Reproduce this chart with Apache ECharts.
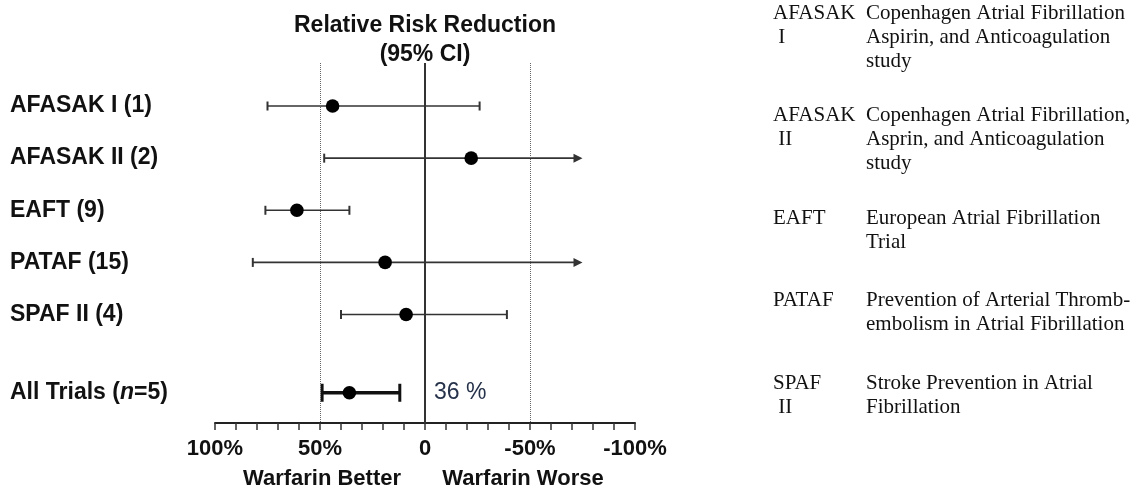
<!DOCTYPE html>
<html>
<head>
<meta charset="utf-8">
<title>Relative Risk Reduction</title>
<script src="https://cdn.jsdelivr.net/npm/echarts@6/dist/echarts.min.js"></script>
<style>
  html, body { margin: 0; padding: 0; background: #fff; }
  #chart { width: 1145px; height: 491px; }
</style>
</head>
<body>
<div id="chart"></div>
<script>
// Trials and their relative risk reduction (%), with 95% confidence limits
const trials = ['AFASAK I (1)', 'AFASAK II (2)', 'EAFT (9)', 'PATAF (15)', 'SPAF II (4)', 'All Trials (n=5)'];
const rrr = [44, -22, 61, 19, 9, 36];
const ciUpper = [75, 48, 76, 82, 40, 49];      // bound on the "warfarin better" side
const ciLower = [-26, -75, 36, -75, -39, 12];  // bound on the "warfarin worse" side
const truncated = [false, true, false, true, false, false]; // interval continues past the drawn end

// Axis labels
const tickValues = [100, 50, 0, -50, -100];
const tickLabels = ['100%', '50%', '0', '-50%', '-100%'];
const sideLabels = ['Warfarin Better', 'Warfarin Worse'];
const titleLines = ['Relative Risk Reduction', '(95% CI)'];

// Abbreviation key
const keyAbbrev = [['AFASAK', ' I'], ['AFASAK', ' II'], ['EAFT'], ['PATAF'], ['SPAF', ' II']];
const keyText = [
  ['Copenhagen Atrial Fibrillation', 'Aspirin, and Anticoagulation', 'study'],
  ['Copenhagen Atrial Fibrillation,', 'Asprin, and Anticoagulation', 'study'],
  ['European Atrial Fibrillation', 'Trial'],
  ['Prevention of Arterial Thromb-', 'embolism in Atrial Fibrillation'],
  ['Stroke Prevention in Atrial', 'Fibrillation']
];

const SANS = '"Liberation Sans", Arial, Helvetica, sans-serif';
const SERIF = '"Liberation Serif", "Times New Roman", Times, serif';

// pooled row sits half a row lower than the individual trials
const rowPos = trials.map((t, i) => (i < trials.length - 1 ? i : i + 0.5));
const rows = trials.map((t, i) => [rowPos[i], rrr[i], ciUpper[i], ciLower[i]]);

function rowLabel(name) {
  return name.replace('(n=', '({it|n}=');
}

function renderRow(params, api) {
  const i = params.dataIndex;
  const pos = api.value(0);
  const [xEst, y] = api.coord([api.value(1), pos]);
  const xL = api.coord([api.value(2), pos])[0];
  const xR = api.coord([api.value(3), pos])[0];
  const pooled = i === trials.length - 1;
  const color = pooled ? '#111' : '#333';
  const lw = pooled ? 3.5 : 1.6;
  const capH = pooled ? 9 : 4.5;
  const capW = pooled ? 3 : 2;
  const children = [
    { type: 'line', shape: { x1: xL, y1: y, x2: truncated[i] ? xR - 6 : xR, y2: y },
      style: { stroke: color, lineWidth: lw } },
    { type: 'line', shape: { x1: xL, y1: y - capH, x2: xL, y2: y + capH },
      style: { stroke: color, lineWidth: capW } }
  ];
  if (truncated[i]) {
    children.push({ type: 'polygon', shape: { points: [[xR, y], [xR - 9, y - 4.5], [xR - 9, y + 4.5]] },
      style: { fill: color } });
  } else {
    children.push({ type: 'line', shape: { x1: xR, y1: y - capH, x2: xR, y2: y + capH },
      style: { stroke: color, lineWidth: capW } });
  }
  children.push({ type: 'circle', shape: { cx: xEst, cy: y, r: 6.8 }, style: { fill: '#000' } });
  children.push({
    type: 'text', x: 10, y: y,
    style: {
      text: rowLabel(trials[i]),
      fontFamily: SANS, fontSize: 23, fontWeight: 'bold', fill: '#111',
      verticalAlign: 'middle', align: 'left',
      rich: { it: { fontFamily: SANS, fontSize: 23, fontWeight: 'bold', fontStyle: 'italic', fill: '#111' } }
    }
  });
  if (pooled) {
    children.push({
      type: 'text', x: api.coord([0, pos])[0] + 9, y: y,
      style: { text: rrr[i] + ' %', fontFamily: SANS, fontSize: 23, fill: '#25324a',
        verticalAlign: 'middle', align: 'left' }
    });
  }
  return { type: 'group', children };
}

// free-standing text: heading, side captions and the abbreviation key
const graphics = [];
titleLines.forEach((t, k) => {
  graphics.push({ type: 'text', x: 425, y: 26 + k * 29,
    style: { text: t, fontFamily: SANS, fontSize: 23, fontWeight: 'bold', fill: '#111',
      textAlign: 'center', textVerticalAlign: 'middle' } });
});
[322, 523].forEach((x, k) => {
  graphics.push({ type: 'text', x: x, y: 479,
    style: { text: sideLabels[k], fontFamily: SANS, fontSize: 22, fontWeight: 'bold', fill: '#111',
      textAlign: 'center', textVerticalAlign: 'middle' } });
});
const keyTop = [13, 115, 218, 300, 383];
const keyLine = 24;
keyText.forEach((lines, b) => {
  keyAbbrev[b].forEach((t, k) => {
    graphics.push({ type: 'text', x: 773, y: keyTop[b] + k * keyLine,
      style: { text: t, fontFamily: SERIF, fontSize: 21, fill: '#111', textVerticalAlign: 'middle' } });
  });
  lines.forEach((t, k) => {
    graphics.push({ type: 'text', x: 866, y: keyTop[b] + k * keyLine,
      style: { text: t, fontFamily: SERIF, fontSize: 21, fill: '#111', textVerticalAlign: 'middle' } });
  });
});

const chart = echarts.init(document.getElementById('chart'), null, { renderer: 'canvas' });
chart.setOption({
  animation: false,
  backgroundColor: '#fff',
  grid: { left: 215, right: 510, top: 63, bottom: 68 },
  xAxis: {
    type: 'value', min: -100, max: 100, interval: 10, inverse: true,
    splitLine: { show: false },
    axisLine: { onZero: false, lineStyle: { color: '#222', width: 2 } },
    axisTick: { length: 7, lineStyle: { color: '#333', width: 1.5 } },
    axisLabel: {
      margin: 15, fontFamily: SANS, fontSize: 22, fontWeight: 'bold', color: '#111',
      formatter: v => { const k = tickValues.indexOf(v); return k >= 0 ? tickLabels[k] : ''; }
    }
  },
  yAxis: { type: 'value', min: -0.825, max: 6.08, inverse: true, show: false },
  graphic: graphics,
  series: [
    {
      type: 'line', data: [], silent: true,
      markLine: {
        silent: true, symbol: 'none', label: { show: false },
        data: [
          { xAxis: 0, lineStyle: { type: 'solid', color: '#333', width: 2 } },
          { xAxis: 50, lineStyle: { type: 'dotted', color: '#666', width: 1 } },
          { xAxis: -50, lineStyle: { type: 'dotted', color: '#666', width: 1 } }
        ]
      }
    },
    {
      type: 'custom', renderItem: renderRow, data: rows, silent: true,
      encode: { x: [1, 2, 3], y: 0 }
    }
  ]
});
</script>
</body>
</html>
